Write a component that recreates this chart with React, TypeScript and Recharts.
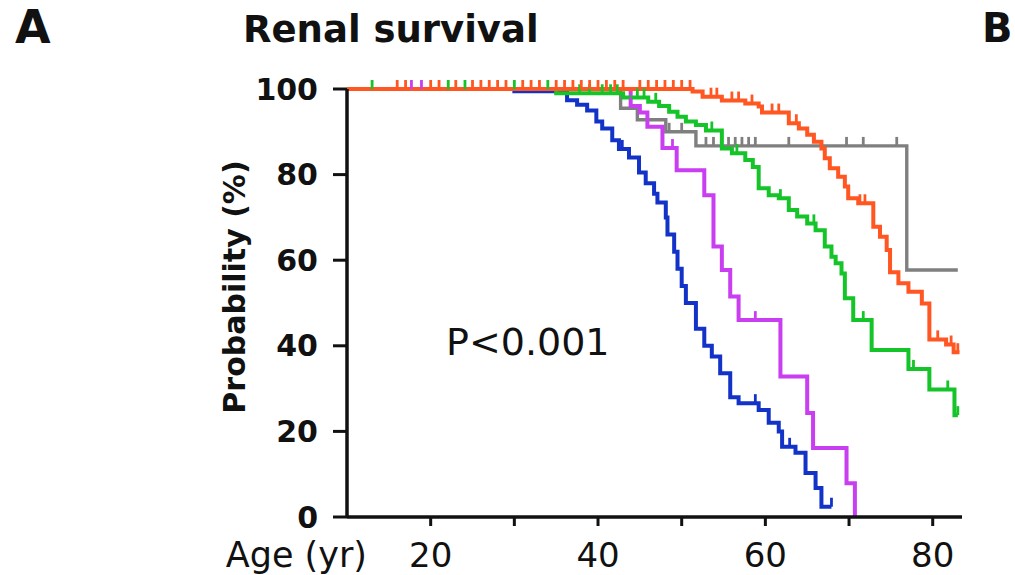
import React from 'react';
import { ComposedChart, Line, Scatter, XAxis, YAxis } from 'recharts';

// Kaplan-Meier steps: [age (yr), renal survival (%)]
const orangeSteps: [number, number][] = [
  [10, 100], [51.3, 99.4], [52.5, 98.2], [54.8, 97.3], [57.6, 96.6], [59.2, 95.9], [59.6, 94.5],
  [62.8, 92], [64, 90.8], [65, 89.3], [65.8, 87.7], [66.7, 86.1], [67.1, 83.8], [67.7, 81.5],
  [68.7, 79.5], [69.5, 77.2], [69.9, 74.5], [71.1, 73.3], [72.9, 67.8], [73.7, 65.5], [74.5, 62.4],
  [74.9, 57.2], [75.9, 54.6], [77.1, 52.6], [78.7, 49.9], [79.6, 41.5], [81.6, 40.3], [82.5, 38.5],
  [83.2, 38.5],
];
const greenSteps: [number, number][] = [
  [10, 100], [35, 99], [43, 98], [46, 97], [47.3, 96], [48.5, 94.7], [49.5, 93.5], [50.5, 92.4],
  [51.7, 91.6], [52.9, 90.3], [54.8, 86.1], [56, 85], [57.6, 83.4], [58.5, 81.8], [59.2, 76.8],
  [60.4, 75.2], [61.6, 74.5], [62.8, 71.7], [63.8, 70.2], [65, 68.6], [66, 67], [67.1, 63.2],
  [67.9, 60.8], [68.4, 59.3], [69.1, 56.9], [69.5, 51.1], [70.5, 46], [72.7, 39], [77.1, 34.6],
  [79.6, 29.8], [82.6, 23.8], [83, 23.8],
];
const grayPoints: [number, number][] = [
  [10, 100], [42.7, 95.5], [44.7, 92.8], [48.1, 90], [51.7, 86.7], [76.9, 57.7], [83, 57.7],
];
const magentaSteps: [number, number][] = [
  [10, 100], [43.9, 96], [45, 94.5], [45.9, 91.2], [47.7, 86.2], [49.4, 81], [52.7, 75.2],
  [53.8, 63.2], [54.8, 57.7], [55.8, 51.5], [56.8, 46], [61.8, 32.8], [65, 24.3], [65.7, 16.1],
  [69.7, 7.9], [70.7, 0],
];
const blueSteps: [number, number][] = [
  [10, 100], [30, 99.5], [36.3, 97.4], [37.5, 96.3], [38.7, 95], [39.8, 92.4], [40.5, 90.8],
  [41.7, 88], [42.5, 86], [43.7, 84], [44.9, 80.5], [45.7, 78], [46.7, 75.5], [47.1, 73.5],
  [48.1, 70], [48.3, 66], [49.1, 62], [49.5, 58], [50, 54], [50.5, 50], [51.7, 44], [52.7, 40],
  [53.6, 37.5], [54.6, 33.6], [55.8, 28], [56.8, 26.6], [59.2, 25], [60.4, 22], [61.6, 20],
  [62, 16.4], [63.6, 15], [64.8, 10.3], [66, 6.8], [66.7, 2.4], [67.9, 2.4],
];

// censored subjects (tick marks)
const orangeCensored: [number, number][] = [
  [16, 100], [17, 100], [20, 100], [21, 100], [23, 100], [25, 100], [26, 100], [27, 100], [28, 100],
  [29, 100], [31, 100], [32, 100], [33, 100], [35, 100], [36, 100], [37, 100], [38, 100], [39, 100],
  [40, 100], [41, 100], [42, 100], [43, 100], [45, 100], [46, 100], [47, 100], [48, 100], [49, 100],
  [50, 100], [51, 100], [53.5, 98.2], [54.2, 98.2], [56, 97.3], [56.8, 97.3], [58.4, 96.6],
  [60.8, 94.5], [61.6, 94.5], [63.7, 92], [71.3, 73.3], [71.9, 73.3], [80.6, 41.5], [82.2, 40.3],
  [83, 38.5],
];
const greenCensored: [number, number][] = [
  [13, 100], [22.1, 100], [24.1, 100], [30, 100], [34, 100], [37.8, 99], [39, 99], [40.5, 99],
  [41.5, 99], [42.3, 99], [44.7, 98], [45.5, 98], [46.9, 97], [53.6, 90.3], [56.6, 85],
  [61.8, 74.5], [65.8, 68.6], [71.7, 46], [77.7, 34.6], [81.8, 29.8], [83, 23.8],
];
const grayCensored: [number, number][] = [
  [48.5, 90], [50, 90], [52.9, 86.7], [53.8, 86.7], [55.6, 86.7], [56.4, 86.7], [57.2, 86.7],
  [58, 86.7], [58.8, 86.7], [62.8, 86.7], [69.7, 86.7], [71.7, 86.7], [75.7, 86.7],
];
const magentaCensored: [number, number][] = [
  [17.7, 100], [18.9, 100], [43.9, 96], [48.9, 86.2], [58.8, 46],
];
const blueCensored: [number, number][] = [
  [42.9, 86], [58.8, 26.6], [62.9, 16.4], [67.9, 2.4],
];

const xTicks = [20, 30, 40, 50, 60, 70, 80];
const xTickLabels = [20, 40, 60, 80];
const yTicks = [0, 20, 40, 60, 80, 100];

const FONT = '"DejaVu Sans", sans-serif';
const INK = '#111111';

const toRows = (pts: [number, number][]) => pts.map(([age, p]) => ({ age, p }));

const censorMark = (color: string) => (props: any) => {
  const { cx, cy } = props;
  if (cx == null || cy == null) return <g />;
  return <line x1={cx} x2={cx} y1={cy} y2={cy - 9} stroke={color} strokeWidth={2.8} />;
};

const series = [
  { name: 'gray', color: '#7f7f7f', steps: grayPoints, censored: grayCensored, width: 3.4 },
  { name: 'blue', color: '#1232c8', steps: blueSteps, censored: blueCensored, width: 4 },
  { name: 'magenta', color: '#c93ef0', steps: magentaSteps, censored: magentaCensored, width: 4 },
  { name: 'green', color: '#14c428', steps: greenSteps, censored: greenCensored, width: 4 },
  { name: 'orange', color: '#ff5622', steps: orangeSteps, censored: orangeCensored, width: 4 },
];

export default function App() {
  return (
    <div style={{ position: 'absolute', left: 0, top: 0, width: 1015, height: 575, background: '#fff' }}>
      <ComposedChart width={1015} height={575} margin={{ top: 89, right: 53, bottom: 0, left: 227 }}>
        <XAxis
          type="number"
          dataKey="age"
          domain={[10, 83.5]}
          allowDataOverflow
          ticks={xTicks}
          tickFormatter={(v: number) => (xTickLabels.includes(v) ? String(v) : '')}
          height={58}
          tickSize={9}
          tickMargin={17}
          axisLine={{ stroke: INK, strokeWidth: 3.5 }}
          tickLine={{ stroke: INK, strokeWidth: 3 }}
          tick={{ fontSize: 34, fontFamily: FONT, fill: INK }}
        />
        <YAxis
          type="number"
          dataKey="p"
          domain={[0, 100]}
          ticks={yTicks}
          width={120}
          tickSize={14}
          tickMargin={15}
          axisLine={{ stroke: INK, strokeWidth: 3.5 }}
          tickLine={{ stroke: INK, strokeWidth: 3 }}
          tick={{ fontSize: 30, fontFamily: FONT, fontWeight: 'bold', fill: INK }}
        />
        {series.map(s => (
          <Line
            key={s.name}
            data={toRows(s.steps)}
            dataKey="p"
            type="stepAfter"
            stroke={s.color}
            strokeWidth={s.width}
            dot={false}
            activeDot={false}
            isAnimationActive={false}
          />
        ))}
        {series.map(s => (
          <Scatter
            key={s.name + '-cens'}
            data={toRows(s.censored)}
            dataKey="p"
            shape={censorMark(s.color)}
            isAnimationActive={false}
          />
        ))}
      </ComposedChart>
      <svg
        width={1015}
        height={575}
        style={{ position: 'absolute', left: 0, top: 0, pointerEvents: 'none' }}
        fontFamily={FONT}
        fill={INK}
      >
        <text x={15} y={43} fontSize={46} fontWeight="bold">A</text>
        <text x={243} y={42} fontSize={37} fontWeight="bold">Renal survival</text>
        <text x={982} y={42} fontSize={40} fontWeight="bold">B</text>
        <text x={446} y={355} fontSize={38}>P&lt;0.001</text>
        <text x={367} y={567} fontSize={35} textAnchor="end">Age (yr)</text>
        <text
          x={245}
          y={287}
          fontSize={30}
          fontWeight="bold"
          textAnchor="middle"
          transform="rotate(-90 245 287)"
        >
          Probability (%)
        </text>
      </svg>
    </div>
  );
}
